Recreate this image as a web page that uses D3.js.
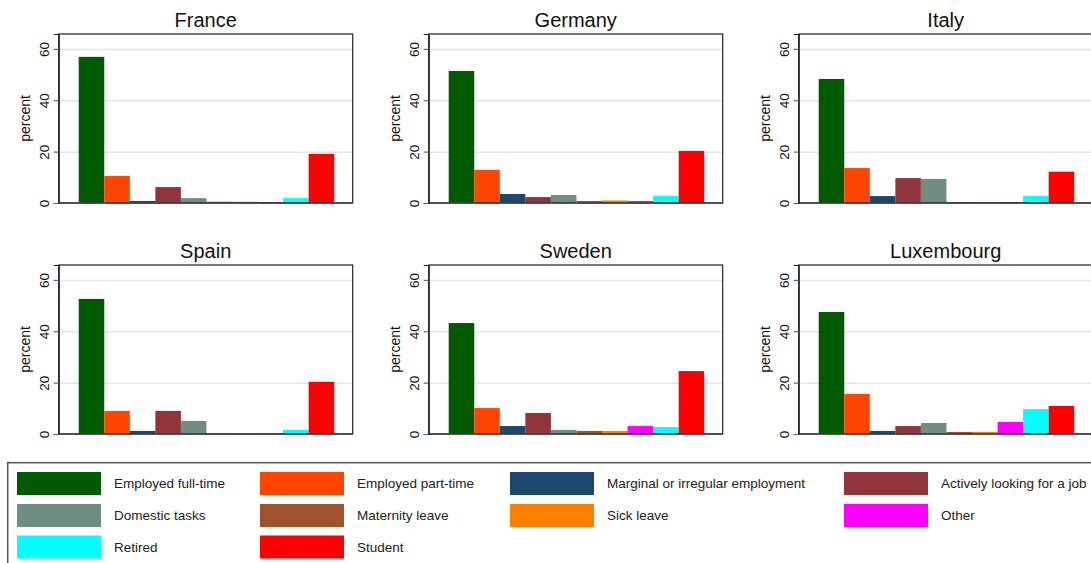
<!DOCTYPE html>
<html>
<head>
  <meta charset="utf-8">
  <title>Activity status by country</title>
  <script src="https://d3js.org/d3.v7.min.js"></script>
  <style>
    body { margin: 0; background: #fff; }
    text { font-family: "Liberation Sans", Arial, Helvetica, sans-serif; }
  </style>
</head>
<body>
  <script>
    var width = 1091;
    var height = 563;

    var categories = ["Employed full-time", "Employed part-time", "Marginal or irregular employment",
      "Actively looking for a job", "Domestic tasks", "Maternity leave", "Sick leave", "Other",
      "Retired", "Student"];
    var colors = ["#005a00", "#ff4500", "#1c4870", "#90353b", "#6e8e84", "#a0522d", "#ff7f00",
      "#ff00ff", "#00ffff", "#ff0000"];

    var countries = ["France", "Germany", "Italy", "Spain", "Sweden", "Luxembourg"];
    var france = [56.9, 10.5, 0.8, 6.2, 1.9, 0.5, 0.5, 0.4, 1.9, 19.1];
    var germany = [51.4, 12.9, 3.5, 2.3, 3.1, 0.8, 1.0, 0.8, 2.7, 20.3];
    var italy = [48.3, 13.6, 2.7, 9.7, 9.4, 0.4, 0.4, 0.4, 2.7, 12.2];
    var spain = [52.6, 9.0, 1.2, 9.0, 5.1, 0.3, 0.3, 0.3, 1.6, 20.3];
    var sweden = [43.2, 10.1, 3.1, 8.2, 1.6, 1.2, 1.2, 3.1, 2.7, 24.5];
    var luxembourg = [47.5, 15.6, 1.2, 3.1, 4.3, 0.8, 0.8, 4.7, 9.7, 10.9];
    var values = [france, germany, italy, spain, sweden, luxembourg];

    var yTicks = [0, 20, 40, 60];

    var svg = d3.select("body").append("svg").attr("width", width).attr("height", height);

    // panel geometry
    var pw = 294, ph = 169;
    var x0 = 58.7, y0 = 34, dx = 370, dy = 231;

    var y = d3.scaleLinear().domain([0, 65.8]).range([ph, 0]);
    var x = d3.scaleBand().domain(categories).range([20, 275.5]).padding(0);

    countries.forEach(function (name, i) {
      var col = i % 3, row = Math.floor(i / 3);
      var g = svg.append("g")
        .attr("transform", "translate(" + (x0 + col * dx) + "," + (y0 + row * dy) + ")");

      // grid
      g.append("g")
        .call(d3.axisLeft(y).tickValues([20, 40, 60]).tickSize(-pw).tickFormat(""))
        .call(function (s) {
          s.select(".domain").remove();
          s.selectAll("line").attr("stroke", "#e6e6e6").attr("stroke-width", 1.5);
        });

      g.selectAll("rect.bar")
        .data(values[i])
        .enter()
        .append("rect")
        .attr("class", "bar")
        .attr("x", function (d, j) { return x(categories[j]); })
        .attr("width", x.bandwidth())
        .attr("y", function (d) { return y(d); })
        .attr("height", function (d) { return ph - y(d); })
        .attr("fill", function (d, j) { return colors[j]; });

      // frame
      g.append("rect")
        .attr("width", pw).attr("height", ph)
        .attr("fill", "none").attr("stroke", "#222").attr("stroke-width", 1.2);
      g.append("line")
        .attr("x1", 0).attr("x2", pw).attr("y1", ph).attr("y2", ph)
        .attr("stroke", "#444").attr("stroke-width", 1.6);

      // y axis
      g.append("g")
        .call(d3.axisLeft(y).tickValues(yTicks).tickSize(5))
        .call(function (s) {
          s.select(".domain").attr("stroke", "#222").attr("stroke-width", 1.2);
          s.selectAll("line").attr("stroke", "#666").attr("stroke-width", 1.2);
          s.selectAll("text")
            .attr("transform", "rotate(-90)")
            .attr("x", 0).attr("y", -10).attr("dy", 0)
            .attr("text-anchor", "middle")
            .attr("fill", "#111")
            .style("font-size", "13.5px")
            .style("font-family", "'Liberation Sans', Arial, Helvetica, sans-serif");
        });

      g.append("text")
        .attr("transform", "translate(-29," + (ph / 2) + ") rotate(-90)")
        .attr("text-anchor", "middle")
        .attr("fill", "#111")
        .style("font-size", "14px")
        .text("percent");

      g.append("text")
        .attr("x", pw / 2).attr("y", -7)
        .attr("text-anchor", "middle")
        .attr("fill", "#111")
        .style("font-size", "20px")
        .text(name);
    });

    // legend
    var legend = svg.append("g");
    legend.append("rect")
      .attr("x", 7.7).attr("y", 462.7).attr("width", 1200).attr("height", 200)
      .attr("fill", "none").attr("stroke", "#555").attr("stroke-width", 1.5);

    var legCols = [17, 260, 510, 844];
    var legRows = [472, 504, 535.5];

    var item = legend.selectAll("g.item")
      .data(categories)
      .enter()
      .append("g")
      .attr("class", "item")
      .attr("transform", function (d, j) {
        return "translate(" + legCols[j % 4] + "," + legRows[Math.floor(j / 4)] + ")";
      });
    item.append("rect")
      .attr("width", 84).attr("height", 23)
      .attr("fill", function (d, j) { return colors[j]; });
    item.append("text")
      .attr("x", 97).attr("y", 11.5).attr("dy", "0.35em")
      .attr("fill", "#222")
      .style("font-size", "13.5px")
      .text(function (d) { return d; });
  </script>
</body>
</html>
